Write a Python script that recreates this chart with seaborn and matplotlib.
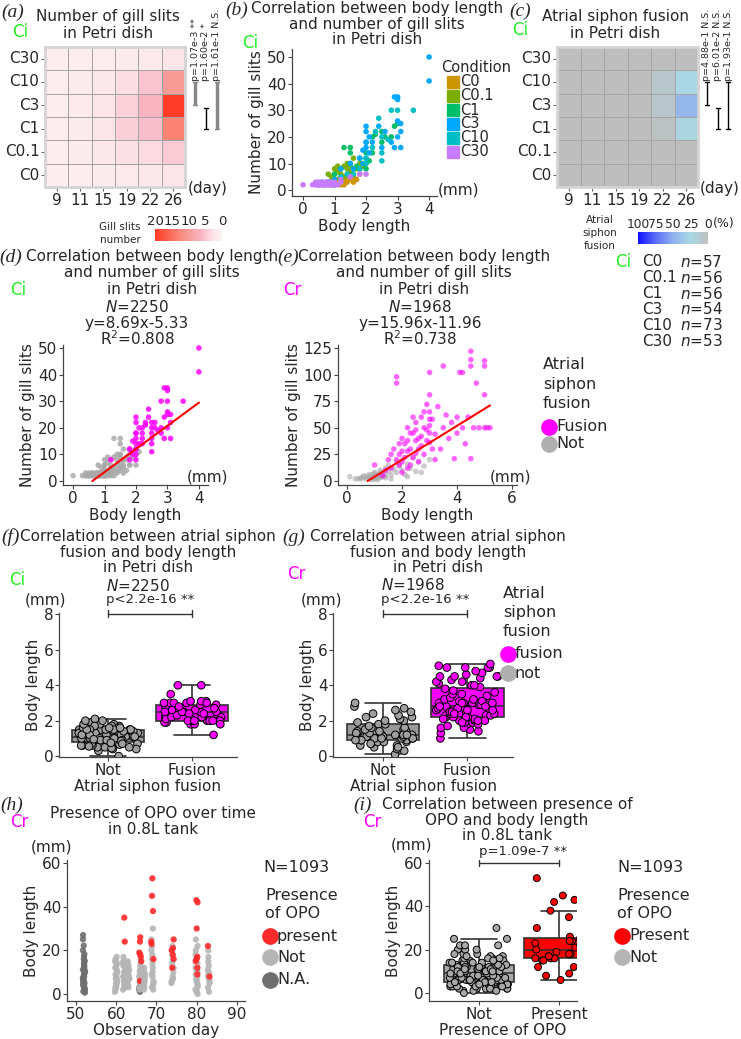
import numpy as np
import pandas as pd
import matplotlib
matplotlib.use("Agg")
import matplotlib.pyplot as plt
from matplotlib.colors import LinearSegmentedColormap
from matplotlib.lines import Line2D
import seaborn as sns

np.random.seed(3)  # strip jitter only

# -----------------------------
# DATA
# -----------------------------
days = [9, 11, 15, 19, 22, 26]
heat_rows = ["C30", "C10", "C3", "C1", "C0.1", "C0"]

# mean number of gill slits (rows top->bottom)
gill_heat = [
    [1.0, 1.0, 1.2, 1.4, 1.6, 2.2],
    [1.0, 1.3, 1.8, 3.0, 5.0, 10.0],
    [1.0, 1.5, 2.3, 4.0, 6.5, 20.0],
    [1.0, 1.4, 2.2, 4.2, 5.5, 13.0],
    [1.0, 1.3, 1.8, 2.8, 3.2, 4.5],
    [1.0, 1.0, 1.3, 1.6, 1.8, 2.4],
]
# atrial siphon fusion (%)
fusion_heat = [
    [0, 0, 0, 0, 0, 0],
    [0, 0, 0, 0, 8, 25],
    [0, 0, 0, 0, 8, 45],
    [0, 0, 0, 0, 3, 22],
    [0, 0, 0, 0, 0, 0],
    [0, 0, 0, 0, 0, 0],
]
pval_a = ["p=1.07e-3 **", "p=1.60e-2 *", "p=1.61e-1 N.S."]
pval_c = ["p=4.88e-1 N.S.", "p=6.01e-2 N.S.", "p=1.93e-1 N.S."]

cond_names = ["C0", "C0.1", "C1", "C3", "C10", "C30"]
cond_colors = ["#CD9600", "#7CAE00", "#00BE67", "#00A9FF", "#00BFC4", "#C77CFF"]
cond_n = [57, 56, 56, 54, 73, 53]

# Ci in Petri dish: (body length mm, gill slits, fusion flag)
ci_c0 = [(0.8, 2, 0), (0.9, 2, 0), (1.0, 2, 0), (1.0, 3, 0), (1.1, 3, 0), (1.2, 2, 0),
         (1.2, 3, 0), (1.3, 4, 0), (1.4, 3, 0), (1.4, 4, 0), (1.5, 4, 0), (1.5, 5, 0),
         (1.6, 3, 0), (1.6, 5, 0), (1.7, 4, 0), (1.8, 6, 0), (1.3, 2, 0), (1.1, 4, 0),
         (0.9, 3, 0), (1.0, 2, 0)]
ci_c01 = [(0.8, 6, 0), (0.9, 5, 0), (1.0, 4, 0), (1.0, 6, 0), (1.0, 8, 0), (1.1, 7, 0),
          (1.1, 9, 0), (1.2, 6, 0), (1.2, 8, 0), (1.3, 5, 0), (1.3, 9, 0), (1.4, 8, 0),
          (1.4, 10, 0), (1.5, 7, 0), (1.5, 9, 0), (1.6, 8, 0), (1.6, 12, 0), (1.7, 8, 0),
          (1.8, 10, 0), (1.9, 9, 0), (2.0, 10, 0), (1.2, 4, 0)]
ci_c1 = [(1.0, 6, 0), (1.3, 16, 0), (1.5, 16, 0), (1.5, 10, 0), (1.5, 14, 0), (1.8, 12, 1),
         (2.0, 8, 1), (2.0, 14, 1), (2.1, 11, 0), (2.2, 20, 1), (2.3, 21, 1), (2.5, 18, 1),
         (2.5, 22, 1), (2.6, 20, 1), (2.8, 20, 1), (2.9, 24, 1), (3.0, 25, 1), (1.7, 9, 0),
         (2.0, 18, 1), (2.2, 14, 1)]
ci_c3 = [(0.8, 3, 0), (1.0, 4, 0), (1.2, 8, 1), (1.5, 10, 0), (1.6, 8, 0), (1.8, 12, 1),
         (1.9, 15, 1), (2.0, 18, 1), (2.0, 22, 1), (2.0, 24, 1), (2.1, 14, 1), (2.4, 24, 1),
         (2.5, 16, 1), (2.6, 22, 1), (2.8, 18, 1), (2.9, 16, 1), (2.9, 35, 1), (3.0, 20, 1),
         (3.0, 26, 1), (3.0, 34, 1), (3.0, 35, 1), (3.1, 16, 1), (3.1, 22, 1), (3.1, 25, 1),
         (4.0, 41, 1), (4.0, 50, 1), (2.0, 12, 1), (2.0, 16, 1), (2.2, 18, 1), (1.9, 10, 1),
         (2.1, 20, 1)]
ci_c10 = [(0.6, 3, 0), (0.8, 3, 0), (1.0, 2, 0), (1.2, 5, 0), (1.4, 6, 0), (1.8, 8, 1),
          (2.0, 10, 1), (2.0, 12, 1), (2.2, 16, 1), (2.3, 22, 1), (2.4, 27, 1), (2.5, 11, 1),
          (2.5, 14, 1), (2.5, 20, 1), (2.7, 19, 1), (2.8, 30, 1), (3.0, 30, 1), (3.5, 30, 1),
          (1.6, 6, 0), (0.7, 2, 0), (0.9, 3, 0)]
ci_c30 = [(0.0, 2, 0), (0.3, 2, 0), (0.4, 2, 0), (0.5, 2, 0), (0.5, 3, 0), (0.6, 2, 0),
          (0.6, 3, 0), (0.7, 2, 0), (0.7, 3, 0), (0.8, 2, 0), (0.8, 3, 0), (0.9, 2, 0),
          (0.9, 3, 0), (1.0, 2, 0), (1.0, 3, 0), (1.2, 3, 0), (1.2, 4, 0), (1.5, 5, 0),
          (1.8, 6, 0), (2.0, 6, 0), (0.45, 2, 0), (0.55, 2, 0), (0.4, 3, 0), (0.65, 2, 0),
          (0.75, 3, 0), (0.85, 2, 0), (0.95, 2, 0), (1.1, 2, 0), (0.5, 2, 0), (0.7, 2, 0)]
ci_N = 2250
ci_slope, ci_intercept, ci_r2 = 8.69, -5.33, 0.808

# Cr in Petri dish: (body length mm, gill slits)
cr_not = [(0.1, 4), (0.3, 2), (0.4, 2), (0.5, 3), (0.6, 5), (0.6, 3), (0.7, 2), (0.8, 4),
          (0.8, 2), (0.9, 6), (0.9, 1), (1.0, 3), (1.0, 8), (1.0, 5), (1.1, 5), (1.1, 1),
          (1.1, 3), (1.2, 10), (1.2, 4), (1.2, 6), (1.3, 7), (1.3, 4), (1.4, 12), (1.4, 3),
          (1.5, 9), (1.5, 15), (1.6, 6), (1.6, 2), (1.7, 11), (1.8, 18), (1.8, 8), (1.9, 14),
          (2.0, 10), (2.0, 20), (2.1, 6), (2.2, 16), (2.2, 4), (2.3, 12), (2.4, 22), (2.5, 9),
          (2.6, 18), (2.7, 8), (2.8, 14), (3.0, 20), (0.5, 2), (0.7, 4), (0.8, 6), (0.9, 3),
          (1.0, 2), (1.1, 6), (1.2, 3), (1.3, 5), (1.0, 7), (0.9, 4), (1.2, 8), (1.4, 5)]
cr_fusion = [(1.0, 15), (1.3, 5), (1.5, 20), (1.6, 12), (1.7, 30), (1.8, 92), (1.8, 98),
             (1.9, 25), (2.0, 40), (2.0, 18), (2.1, 35), (2.2, 50), (2.2, 28), (2.3, 45),
             (2.3, 15), (2.4, 22), (2.5, 55), (2.5, 38), (2.6, 30), (2.7, 60), (2.7, 42),
             (2.8, 25), (2.9, 48), (2.9, 72), (3.0, 102), (3.0, 81), (3.0, 65), (3.0, 52),
             (3.0, 36), (3.1, 58), (3.2, 44), (3.2, 20), (3.3, 70), (3.4, 30), (3.5, 108),
             (3.5, 50), (3.6, 62), (3.7, 40), (3.8, 55), (3.9, 21), (4.0, 60), (4.0, 45),
             (4.1, 102), (4.2, 102), (4.2, 50), (4.3, 35), (4.4, 60), (4.5, 122), (4.5, 114),
             (4.5, 108), (4.5, 21), (4.6, 50), (4.7, 92), (4.8, 50), (5.0, 113), (5.0, 108),
             (5.0, 81), (5.0, 50), (5.1, 50), (5.2, 50),
             (1.4, 10), (1.6, 25), (1.8, 20), (1.9, 35), (2.0, 28), (2.1, 22), (2.2, 38),
             (2.3, 30), (2.4, 45), (2.5, 26), (2.5, 48), (2.6, 40), (2.7, 33), (2.8, 50),
             (2.9, 38), (3.0, 45), (3.1, 30), (2.2, 12), (2.6, 18), (1.9, 15), (2.4, 60),
             (3.0, 58), (2.0, 8), (2.8, 65)]
cr_N = 1968
cr_slope, cr_intercept, cr_r2 = 15.96, -11.96, 0.738

# Cr in 0.8L tank: observation day -> body lengths (mm)
opo_N = 1093
opo_na_days = [52, 66]
opo_na_lengths = [
    [0.6, 1.2, 1.8, 2.5, 3.1, 3.6, 4.2, 4.9, 5.5, 6.0, 6.8, 7.3, 7.9, 8.6, 9.2, 9.9,
     10.4, 11.1, 11.7, 12.4, 13.0, 13.8, 14.5, 15.2, 16.0, 17.1, 18.3, 20.0, 22.2, 25.1, 27.0],
    [1.0, 1.6, 2.1, 2.7, 3.3, 4.0, 4.6, 5.2],
]
opo_not_days = [60, 62, 63, 66, 67, 69, 74, 80, 83]
opo_not_lengths = [
    [1, 2, 3, 3, 4, 5, 5, 6, 7, 7, 8, 9, 9, 10, 11, 12, 13, 14, 15, 16, 17],
    [2, 3, 4, 4, 5, 6, 6, 7, 8, 9, 10, 11, 12, 13, 14, 15, 17],
    [3, 4, 5, 6, 7, 8, 9, 10, 11, 12, 13, 14, 15],
    [2, 3, 4, 5, 6, 7, 8, 9, 10, 11, 12, 13, 15],
    [2, 3, 4, 5, 6, 7, 8, 9, 10, 12],
    [2, 3, 4, 5, 6, 8, 9, 10, 12, 14, 16, 18, 20, 22, 25, 30],
    [5, 6, 7, 8, 10, 12, 14, 16, 18, 22],
    [0, 1, 2, 3, 4, 5, 6, 7, 8, 9, 10, 11, 12, 14, 16, 18, 20, 22, 25],
    [1, 3, 5, 6, 7, 8, 9, 10, 11, 13, 15, 17, 20],
]
opo_present_days = [62, 66, 69, 74, 80, 83]
opo_present_lengths = [
    [24, 35],
    [6, 15, 17, 18, 19, 24, 26],
    [16, 23, 24, 38, 45, 53],
    [12, 16, 18, 20, 21, 25],
    [9, 12, 15, 16, 17, 30, 42, 43],
    [8, 22],
]

# -----------------------------
# TABLES
# -----------------------------
rows = []
for name, pts in zip(cond_names, [ci_c0, ci_c01, ci_c1, ci_c3, ci_c10, ci_c30]):
    for length, gills, fused in pts:
        rows.append((name, length, gills, "Fusion" if fused else "Not"))
ci_df = pd.DataFrame(rows, columns=["condition", "length", "gills", "fusion"])
ci_sorted = pd.concat([ci_df[ci_df.fusion == "Not"], ci_df[ci_df.fusion == "Fusion"]])

cr_df = pd.concat([
    pd.DataFrame(cr_not, columns=["length", "gills"]).assign(fusion="Not"),
    pd.DataFrame(cr_fusion, columns=["length", "gills"]).assign(fusion="Fusion"),
])

opo_rows = []
for status, dlist, llist in [("N.A.", opo_na_days, opo_na_lengths),
                             ("Not", opo_not_days, opo_not_lengths),
                             ("Present", opo_present_days, opo_present_lengths)]:
    for d, lens in zip(dlist, llist):
        for v in lens:
            opo_rows.append((status, d, v))
opo_df = pd.DataFrame(opo_rows, columns=["status", "day", "length"])

# -----------------------------
# FIGURE HELPERS
# -----------------------------
sns.set_theme(style="ticks")
plt.rcParams["font.family"] = ["DejaVu Sans"]
plt.rcParams["mathtext.fontset"] = "dejavusans"

W, H = 741, 1039
fig = plt.figure(figsize=(W / 100, H / 100), dpi=100)
fig.patch.set_facecolor("white")

GREEN = "#22ee22"
MAGENTA = "#ff00ff"


def add_ax(left, top, right, bottom):
    return fig.add_axes([left / W, 1 - bottom / H, (right - left) / W, (bottom - top) / H])


def txt(x, y, s, **kw):
    kw.setdefault("fontsize", 11)
    kw.setdefault("ha", "center")
    kw.setdefault("va", "center")
    fig.text(x / W, 1 - y / H, s, **kw)


def dot(x, y, color, size=10, marker="o"):
    fig.add_artist(Line2D([x / W], [1 - y / H], transform=fig.transFigure, marker=marker,
                          markersize=size, color=color, linestyle="none"))


def letter(x, y, s):
    txt(x, y, s, fontsize=14, family="Liberation Serif", style="italic")


def style(ax):
    sns.despine(ax=ax)
    for s in ["left", "bottom"]:
        ax.spines[s].set_color("#444444")
        ax.spines[s].set_linewidth(0.9)
    ax.tick_params(labelsize=11, length=3, width=0.8, color="#444444", pad=1)
    ax.set_facecolor("none")


def heat(ax, data, cmap, vmax, pvals, xs, colors, widths):
    df = pd.DataFrame(data, index=heat_rows, columns=days)
    sns.heatmap(df, ax=ax, cmap=cmap, vmin=0, vmax=vmax, cbar=False,
                linewidths=0.6, linecolor="#a4a4a4")
    ax.set_xlabel("")
    ax.set_ylabel("")
    ax.tick_params(axis="x", rotation=0)
    ax.tick_params(axis="y", rotation=0)
    ax.tick_params(labelsize=11, length=3, width=0.8, color="#666666", pad=1)
    for s in ax.spines.values():
        s.set_visible(True)
        s.set_color("#d4d4d4")
        s.set_linewidth(2)
    spans = [(1.5, 2.5), (2.6, 3.5), (1.5, 3.5)]
    for (y0, y1), x, c, lw, p in zip(spans, xs, colors, widths, pvals):
        ax.plot([x, x], [y0, y1], color=c, lw=lw, clip_on=False, solid_capstyle="butt")
        for yy in (y0, y1):
            ax.plot([x - 0.1, x + 0.1], [yy, yy], color=c, lw=1, clip_on=False)
        ax.text(x, 1.45, p, rotation=90, ha="center", va="bottom", fontsize=6.8, clip_on=False)
    return ax


# -----------------------------
# (a) gill slit heatmap
# -----------------------------
gill_cmap = LinearSegmentedColormap.from_list(
    "gill", [(0, "#fdf3f4"), (0.12, "#fce4e8"), (0.3, "#f8b8c6"), (0.6, "#f98d80"), (1, "#ff3b25")])
ax_a = add_ax(45, 47, 185, 187)
heat(ax_a, gill_heat, gill_cmap, 20, pval_a, [6.43, 6.9, 7.37],
     ["#888888", "black", "#888888"], [2.5, 1, 2.5])
letter(13, 12, "(a)")
txt(20, 32, "Ci", color=GREEN, fontsize=12)
txt(108, 17, "Number of gill slits")
txt(108, 33, "in Petri dish")
txt(208, 188, "(day)")

cax_a = add_ax(155, 229, 222, 241)
cb = fig.colorbar(ax_a.collections[0], cax=cax_a, orientation="horizontal", ticks=[0, 5, 10, 15, 20])
cb.outline.set_visible(False)
cax_a.invert_xaxis()
cax_a.xaxis.set_ticks_position("top")
cax_a.tick_params(length=0, labelsize=9.5, pad=1)
txt(120, 227, "Gill slits", fontsize=7.5)
txt(120, 240, "number", fontsize=7.5)

# -----------------------------
# (b) scatter by condition
# -----------------------------
ax_b = add_ax(292, 49, 437, 196)
sns.scatterplot(data=ci_df, x="length", y="gills", hue="condition", hue_order=cond_names,
                palette=cond_colors, s=16, linewidth=0, legend=False, ax=ax_b)
style(ax_b)
ax_b.set_xlim(-0.35, 4.25)
ax_b.set_ylim(-2.2, 53)
ax_b.set_xticks([0, 1, 2, 3, 4])
ax_b.set_yticks([0, 10, 20, 30, 40, 50])
ax_b.set_xlabel("Body length", fontsize=11, labelpad=2)
ax_b.set_ylabel("Number of gill slits", fontsize=11, labelpad=2)
letter(237, 10, "(b)")
txt(250, 43, "Ci", color=GREEN, fontsize=12)
txt(377, 8, "Correlation between body length")
txt(377, 24, "and number of gill slits")
txt(377, 40, "in Petri dish")
txt(459, 190, "(mm)")
txt(441, 67, "Condition", ha="left", fontsize=10.5)
for i, (name, col) in enumerate(zip(cond_names, cond_colors)):
    y = 82 + i * 14
    dot(453, y, col, size=8, marker="s")
    txt(460, y, name, ha="left", fontsize=10.5)

# -----------------------------
# (c) fusion heatmap
# -----------------------------
fus_cmap = LinearSegmentedColormap.from_list(
    "fus", [(0, "#bebebe"), (0.25, "#a8d8e6"), (0.5, "#8fb0ee"), (0.75, "#5a6cf6"), (1, "#1010ff")])
ax_c = add_ax(557, 47, 698, 187)
heat(ax_c, fusion_heat, fus_cmap, 100, pval_c, [6.38, 6.85, 7.28],
     ["black", "black", "black"], [1, 1, 1])
letter(520, 11, "(c)")
txt(520, 30, "Ci", color=GREEN, fontsize=12)
txt(615, 17, "Atrial siphon fusion")
txt(615, 33, "in Petri dish")
txt(720, 188, "(day)")

cax_c = add_ax(638, 232, 708, 244)
cb = fig.colorbar(ax_c.collections[0], cax=cax_c, orientation="horizontal", ticks=[0, 25, 50, 75, 100])
cb.outline.set_visible(False)
cax_c.invert_xaxis()
cax_c.xaxis.set_ticks_position("top")
cax_c.tick_params(length=0, labelsize=8.8, pad=1)
txt(724, 224, "(%)", fontsize=9)
txt(600, 220, "Atrial", fontsize=7.5)
txt(600, 233, "siphon", fontsize=7.5)
txt(600, 246, "fusion", fontsize=7.5)

txt(623, 262, "Ci", color=GREEN, fontsize=12)
for i, (name, n) in enumerate(zip(cond_names, cond_n)):
    y = 262 + i * 15.8
    txt(642, y, name, ha="left")
    txt(680, y, "$n$=%d" % n, ha="left")

# -----------------------------
# (d) Ci scatter by fusion
# -----------------------------
fus_pal = {"Not": "#a9a9a9", "Fusion": MAGENTA}
ax_d = add_ax(63, 345, 208, 485)
sns.scatterplot(data=ci_sorted, x="length", y="gills", hue="fusion", palette=fus_pal,
                s=16, linewidth=0, alpha=0.85, legend=False, ax=ax_d)
x0 = max(ci_df.length.min(), -ci_intercept / ci_slope)
x1 = ci_df.length.max()
sns.lineplot(x=[x0, x1], y=[ci_slope * x0 + ci_intercept, ci_slope * x1 + ci_intercept],
             color="red", lw=1.5, ax=ax_d)
style(ax_d)
ax_d.set_xlim(-0.32, 4.29)
ax_d.set_ylim(-1.5, 51.1)
ax_d.set_xticks([0, 1, 2, 3, 4])
ax_d.set_yticks([0, 10, 20, 30, 40, 50])
ax_d.set_xlabel("Body length", fontsize=11, labelpad=2)
ax_d.set_ylabel("Number of gill slits", fontsize=11, labelpad=2)
letter(11, 257, "(d)")
txt(18, 290, "Ci", color=GREEN, fontsize=12)
txt(152, 257, "Correlation between body length")
txt(152, 273, "and number of gill slits")
txt(152, 289, "in Petri dish")
txt(137, 307, "$N$=%d" % ci_N)
txt(137, 323, "y=%.2fx%.2f" % (ci_slope, ci_intercept))
txt(137, 339, "R$^2$=%.3f" % ci_r2)
txt(208, 477, "(mm)")

# -----------------------------
# (e) Cr scatter by fusion
# -----------------------------
ax_e = add_ax(338, 345, 517, 485)
sns.scatterplot(data=cr_df, x="length", y="gills", hue="fusion", palette=fus_pal,
                s=16, linewidth=0, alpha=0.6, legend=False, ax=ax_e)
x0 = max(cr_df.length.min(), -cr_intercept / cr_slope)
x1 = cr_df.length.max()
sns.lineplot(x=[x0, x1], y=[cr_slope * x0 + cr_intercept, cr_slope * x1 + cr_intercept],
             color="red", lw=1.5, ax=ax_e)
style(ax_e)
ax_e.set_xlim(-0.33, 6.18)
ax_e.set_ylim(-3.8, 127.8)
ax_e.set_xticks([0, 2, 4, 6])
ax_e.set_yticks([0, 25, 50, 75, 100, 125])
ax_e.set_xlabel("Body length", fontsize=11, labelpad=2)
ax_e.set_ylabel("Number of gill slits", fontsize=11, labelpad=2)
letter(288, 257, "(e)")
txt(292, 290, "Cr", color=MAGENTA, fontsize=12)
txt(424, 257, "Correlation between body length")
txt(424, 273, "and number of gill slits")
txt(424, 289, "in Petri dish")
txt(420, 307, "$N$=%d" % cr_N)
txt(420, 323, "y=%.2fx%.2f" % (cr_slope, cr_intercept))
txt(420, 339, "R$^2$=%.3f" % cr_r2)
txt(511, 477, "(mm)")
txt(543, 365, "Atrial", ha="left", fontsize=11.5)
txt(543, 385, "siphon", ha="left", fontsize=11.5)
txt(543, 404, "fusion", ha="left", fontsize=11.5)
dot(549, 427, MAGENTA, size=11)
txt(556, 427, "Fusion", ha="left", fontsize=11.5)
dot(549, 444, "#b0b0b0", size=11)
txt(556, 444, "Not", ha="left", fontsize=11.5)


# -----------------------------
# (f)(g) box plots of body length by fusion
# -----------------------------
def fusion_box(ax, df, box_pal, pt_pal):
    sns.boxplot(data=df, x="fusion", y="length", order=["Not", "Fusion"], hue="fusion",
                hue_order=["Not", "Fusion"], palette=box_pal, width=0.86, linecolor="#333333",
                linewidth=1.2, fliersize=0, saturation=1, legend=False, ax=ax)
    sns.stripplot(data=df, x="fusion", y="length", order=["Not", "Fusion"], hue="fusion",
                  hue_order=["Not", "Fusion"], palette=pt_pal, jitter=0.37, size=5.5,
                  edgecolor="black", linewidth=0.7, legend=False, ax=ax)
    style(ax)
    ax.set_xlim(-0.59, 1.54)
    ax.set_ylim(-0.05, 8.08)
    ax.set_yticks([0, 2, 4, 6, 8])
    ax.set_xlabel("Atrial siphon fusion", fontsize=11, labelpad=1)
    ax.set_ylabel("Body length", fontsize=11, labelpad=2)
    ax.plot([0, 1], [8.05, 8.05], color="#333333", lw=1, clip_on=False)
    for xx in (0, 1):
        ax.plot([xx, xx], [7.85, 8.25], color="#333333", lw=1, clip_on=False)


ax_f = add_ax(59, 613, 237, 757)
fusion_box(ax_f, ci_df, {"Not": "#9a9a9a", "Fusion": MAGENTA}, {"Not": "#a0a0a0", "Fusion": MAGENTA})
letter(11, 537, "(f)")
txt(17, 580, "Ci", color=GREEN, fontsize=12)
txt(148, 536, "Correlation between atrial siphon")
txt(148, 552, "fusion and body length")
txt(148, 568, "in Petri dish")
txt(106, 586, "$N$=%d" % ci_N, ha="left")
txt(106, 600, "p<2.2e-16 **", ha="left", fontsize=9.5)
txt(46, 600, "(mm)")

ax_g = add_ax(333, 613, 513, 757)
fusion_box(ax_g, cr_df, {"Not": "#9a9a9a", "Fusion": MAGENTA}, {"Not": "#a0a0a0", "Fusion": MAGENTA})
letter(294, 537, "(g)")
txt(296, 574, "Cr", color=MAGENTA, fontsize=12)
txt(438, 536, "Correlation between atrial siphon")
txt(438, 552, "fusion and body length")
txt(438, 568, "in Petri dish")
txt(381, 585, "$N$=%d" % cr_N, ha="left")
txt(381, 600, "p<2.2e-16 **", ha="left", fontsize=9.5)
txt(322, 600, "(mm)")
txt(503, 593, "Atrial", ha="left", fontsize=11.5)
txt(503, 612, "siphon", ha="left", fontsize=11.5)
txt(503, 631, "fusion", ha="left", fontsize=11.5)
dot(508, 654, MAGENTA, size=11)
txt(515, 654, "fusion", ha="left", fontsize=11.5)
dot(508, 673, "#b0b0b0", size=11)
txt(515, 673, "not", ha="left", fontsize=11.5)

# -----------------------------
# (h) OPO over time
# -----------------------------
opo_pal = {"N.A.": "#6e6e6e", "Not": "#b5b5b5", "Present": "#ff2a2a"}
ax_h = add_ax(67, 860, 245, 1001)
sns.stripplot(data=opo_df, x="day", y="length", hue="status", hue_order=["N.A.", "Not", "Present"],
              palette=opo_pal, native_scale=True, jitter=0.3, size=4.5, linewidth=0, alpha=0.9,
              legend=False, ax=ax_h)
style(ax_h)
ax_h.set_xlim(47.8, 92)
ax_h.set_ylim(-3.2, 61.4)
ax_h.set_xticks([50, 60, 70, 80, 90])
ax_h.set_yticks([0, 20, 40, 60])
ax_h.set_xlabel("Observation day", fontsize=11, labelpad=1)
ax_h.set_ylabel("Body length", fontsize=11, labelpad=2)
letter(12, 805, "(h)")
txt(19, 822, "Cr", color=MAGENTA, fontsize=12)
txt(153, 813, "Presence of OPO over time")
txt(153, 830, "in 0.8L tank")
txt(52, 847, "(mm)")
txt(263, 868, "N=%d" % opo_N, ha="left", fontsize=11.5)
txt(265, 895, "Presence", ha="left", fontsize=11.5)
txt(265, 914, "of OPO", ha="left", fontsize=11.5)
for y, lab, col in [(936, "present", opo_pal["Present"]), (957, "Not", opo_pal["Not"]),
                    (980, "N.A.", opo_pal["N.A."])]:
    dot(270, y, col, size=11)
    txt(277, y, lab, ha="left", fontsize=11.5)

# -----------------------------
# (i) OPO vs body length
# -----------------------------
opo_known = opo_df[opo_df.status != "N.A."]
ax_i = add_ax(429, 860, 577, 1001)
sns.boxplot(data=opo_known, x="status", y="length", order=["Not", "Present"], hue="status",
            hue_order=["Not", "Present"], palette={"Not": "#a8a8a8", "Present": "#ff0000"},
            width=0.88, linecolor="#333333", linewidth=1.2, fliersize=0, saturation=1,
            legend=False, ax=ax_i)
sns.stripplot(data=opo_known, x="status", y="length", order=["Not", "Present"], hue="status",
              hue_order=["Not", "Present"], palette={"Not": "#a8a8a8", "Present": "#ff0000"},
              jitter=0.37, size=5, edgecolor="black", linewidth=0.7, legend=False, ax=ax_i)
style(ax_i)
ax_i.set_xlim(-0.625, 1.225)
ax_i.set_ylim(-3.7, 61.4)
ax_i.set_yticks([0, 20, 40, 60])
ax_i.set_xlabel("Presence of OPO", fontsize=11, labelpad=1)
ax_i.set_ylabel("Body length", fontsize=11, labelpad=2)
ax_i.plot([0, 1], [60, 60], color="#333333", lw=1, clip_on=False)
for xx in (0, 1):
    ax_i.plot([xx, xx], [58.5, 61.5], color="#333333", lw=1, clip_on=False)
letter(362, 805, "(i)")
txt(372, 822, "Cr", color=MAGENTA, fontsize=12)
txt(507, 804, "Correlation between presence of")
txt(507, 820, "OPO and body length")
txt(507, 836, "in 0.8L tank")
txt(523, 851, "p=1.09e-7 **", fontsize=9.5)
txt(412, 845, "(mm)")
txt(617, 868, "N=%d" % opo_N, ha="left", fontsize=11.5)
txt(617, 895, "Presence", ha="left", fontsize=11.5)
txt(617, 914, "of OPO", ha="left", fontsize=11.5)
for y, lab, col in [(936, "Present", "#ff0000"), (957, "Not", "#b5b5b5")]:
    dot(622, y, col, size=11)
    txt(629, y, lab, ha="left", fontsize=11.5)

fig.savefig("out.png", dpi=100)
